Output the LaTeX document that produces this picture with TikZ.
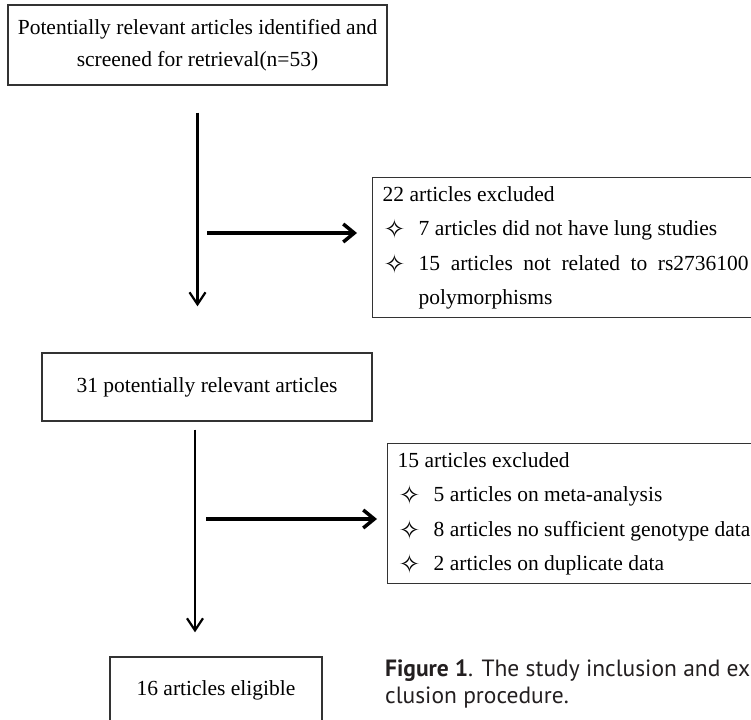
\documentclass[tikz,border=0pt]{standalone}
\usepackage{fontspec}
\setmainfont{Liberation Serif}
\newfontfamily\capfont{PT Sans}
\newfontfamily\starfont{DejaVu Sans}
\usetikzlibrary{arrows.meta}
\setlength{\parindent}{0pt}

\definecolor{captext}{HTML}{231F20}

\newcommand{\exitem}[1]{\par\noindent
  \makebox[36pt][l]{\hspace{1pt}\raisebox{-3pt}[0pt][0pt]{\starfont\fontsize{26}{26}\selectfont ✧}}%
  \parbox[t]{330pt}{#1}}

\tikzset{
  flowbox/.style={draw=black!80, line width=1.4pt, align=center, inner sep=0pt,
    font=\fontsize{21.5}{31.5}\selectfont},
  exbox/.style={draw=black!80, line width=1.4pt, anchor=north west, text width=372pt,
    inner xsep=10pt, inner ysep=0pt, minimum height=140pt, align=justify,
    font=\fontsize{21.5}{34.5}\selectfont},
  vflow/.style={line width=2.2pt, -{Straight Barb[length=12pt,width=16pt]}},
  hflow/.style={line width=3.5pt, -{Straight Barb[length=11pt,width=18pt]}}
}

\begin{document}
\begin{tikzpicture}[x=1pt,y=-1pt]
\useasboundingbox (0,0) rectangle (751,719);
\clip (0,0) rectangle (751,719);

\node[flowbox, minimum width=379pt, minimum height=80pt] (screen) at (197.5,45)
  {Potentially relevant articles identified and\\screened for retrieval(n=53)};
\node[flowbox, minimum width=330pt, minimum height=68pt] (relevant) at (207,387)
  {31 potentially relevant articles};
\node[flowbox, minimum width=212pt, minimum height=66pt] (eligible) at (216,690)
  {16 articles eligible};

\node[exbox] (excl1) at (372,177) {22 articles excluded
  \exitem{7 articles did not have lung studies}
  \exitem{15 articles not related to rs2736100\linebreak polymorphisms}};
\node[exbox] (excl2) at (387,443) {15 articles excluded
  \exitem{5 articles on meta-analysis}
  \exitem{8 articles no sufficient genotype data}
  \exitem{2 articles on duplicate data}};

\coordinate (split1) at (198,233);
\coordinate (split2) at (195,519);

\draw[vflow, shorten <=27pt, shorten >=46pt] (screen.south) -- (screen.south |- relevant.north);
\draw[vflow, shorten <=8pt, shorten >=24pt] (relevant.south -| split2) -- (eligible.north -| split2);

\draw[hflow, shorten <=9pt, shorten >=15pt] (split1) -- (split1 -| excl1.west);
\draw[hflow, shorten <=11pt, shorten >=10pt] (split2) -- (split2 -| excl2.west);

\node[anchor=north west, align=left, inner sep=0pt, text=captext,
  font=\capfont\fontsize{23.5}{27}\selectfont] (caption) at (385,660)
  {\textbf{Figure 1}. The study inclusion and ex\\clusion procedure.};
\end{tikzpicture}
\end{document}
